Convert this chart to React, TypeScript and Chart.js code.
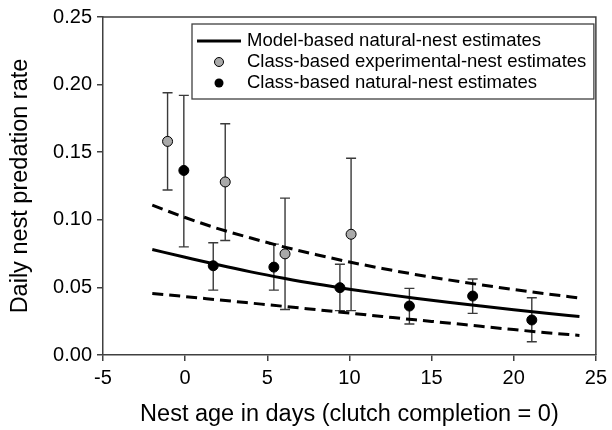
import React, { useEffect, useRef } from "react";
import { Chart, registerables } from "chart.js";

Chart.register(...registerables);

// Model curve
const curveAges = [-2, 0, 2, 4, 6, 8, 10, 12, 14, 16, 18, 20, 22, 24];
const modelRate = [0.078, 0.0723, 0.0667, 0.0615, 0.0568, 0.0525, 0.0487, 0.0452, 0.042, 0.039, 0.0362, 0.0335, 0.0309, 0.0285];
const modelUpper = [0.1108, 0.1017, 0.0935, 0.0865, 0.08, 0.0742, 0.0688, 0.064, 0.0596, 0.0556, 0.0519, 0.0484, 0.0452, 0.0422];
const modelLower = [0.0455, 0.0432, 0.0408, 0.0384, 0.036, 0.0335, 0.031, 0.0285, 0.026, 0.0237, 0.0212, 0.0188, 0.0165, 0.0145];

// Class-based experimental-nest estimates
const expAges = [-1.07, 2.44, 6.08, 10.1];
const expRate = [0.158, 0.128, 0.0748, 0.0893];
const expUpper = [0.194, 0.171, 0.116, 0.1455];
const expLower = [0.122, 0.0847, 0.0336, 0.0328];

// Class-based natural-nest estimates
const natAges = [-0.08, 1.71, 5.4, 9.42, 13.65, 17.5, 21.1];
const natRate = [0.1365, 0.066, 0.065, 0.0498, 0.0362, 0.0436, 0.0259];
const natUpper = [0.192, 0.083, 0.082, 0.0671, 0.0493, 0.0562, 0.0424];
const natLower = [0.080, 0.048, 0.048, 0.0328, 0.0229, 0.0308, 0.0098];

const xTicks = [-5, 0, 5, 10, 15, 20, 25];
const yTicks = [0, 0.05, 0.1, 0.15, 0.2, 0.25];

const legendLabels = [
  "Model-based natural-nest estimates",
  "Class-based experimental-nest estimates",
  "Class-based natural-nest estimates",
];

const FONT = "'Liberation Sans', Arial, Helvetica, sans-serif";
const AXIS = "#404040";
const GREY = "#a9a9a9";

const pts = (xs: number[], ys: number[]) => xs.map((x, i) => ({ x, y: ys[i] }));

const errorBarPlugin = {
  id: "errorBars",
  beforeDatasetsDraw(chart: any) {
    const { ctx, scales } = chart;
    const xs = scales.x;
    const ys = scales.y;
    ctx.save();
    chart.data.datasets.forEach((ds: any) => {
      if (!ds.errUpper) return;
      ctx.strokeStyle = "#3a3a3a";
      ctx.lineWidth = 1.4;
      ds.data.forEach((p: any, i: number) => {
        const px = xs.getPixelForValue(p.x);
        const pu = ys.getPixelForValue(ds.errUpper[i]);
        const pl = ys.getPixelForValue(ds.errLower[i]);
        const hw = 5;
        ctx.beginPath();
        ctx.moveTo(px, pu);
        ctx.lineTo(px, pl);
        ctx.moveTo(px - hw, pu);
        ctx.lineTo(px + hw, pu);
        ctx.moveTo(px - hw, pl);
        ctx.lineTo(px + hw, pl);
        ctx.stroke();
      });
    });
    ctx.restore();
  },
};

const framePlugin = {
  id: "frameLegend",
  afterDraw(chart: any) {
    const { ctx, chartArea } = chart;
    ctx.save();
    ctx.strokeStyle = AXIS;
    ctx.lineWidth = 1.5;
    ctx.beginPath();
    ctx.moveTo(chartArea.left, chartArea.top);
    ctx.lineTo(chartArea.right, chartArea.top);
    ctx.lineTo(chartArea.right, chartArea.bottom);
    ctx.stroke();

    // legend
    const bx = chartArea.left + 89;
    const by = chartArea.top + 7;
    const bw = chartArea.right - 2 - bx;
    const bh = 75;
    ctx.fillStyle = "#fff";
    ctx.fillRect(bx, by, bw, bh);
    ctx.strokeStyle = "#404040";
    ctx.lineWidth = 1.3;
    ctx.strokeRect(bx, by, bw, bh);

    const rowY = [by + 17, by + 38, by + 59];
    ctx.strokeStyle = "#000";
    ctx.lineWidth = 3;
    ctx.beginPath();
    ctx.moveTo(bx + 5, rowY[0]);
    ctx.lineTo(bx + 49, rowY[0]);
    ctx.stroke();

    const cx = bx + 27;
    ctx.lineWidth = 1;
    ctx.beginPath();
    ctx.arc(cx, rowY[1], 4.5, 0, Math.PI * 2);
    ctx.fillStyle = GREY;
    ctx.fill();
    ctx.strokeStyle = "#000";
    ctx.stroke();
    ctx.beginPath();
    ctx.arc(cx, rowY[2], 4.5, 0, Math.PI * 2);
    ctx.fillStyle = "#000";
    ctx.fill();

    ctx.fillStyle = "#000";
    ctx.font = `18.5px ${FONT}`;
    ctx.textBaseline = "middle";
    ctx.textAlign = "left";
    legendLabels.forEach((t, i) => ctx.fillText(t, bx + 55, rowY[i]));
    ctx.restore();
  },
};

export default function App() {
  const ref = useRef<HTMLCanvasElement | null>(null);

  useEffect(() => {
    if (!ref.current) return;
    const lineBase = {
      borderColor: "#000",
      borderWidth: 3,
      pointRadius: 0,
      fill: false,
      cubicInterpolationMode: "monotone",
    };
    const chart = new Chart(ref.current, {
      type: "line",
      data: {
        datasets: [
          { ...lineBase, label: "upper", data: pts(curveAges, modelUpper), borderDash: [11, 6] },
          { ...lineBase, label: "lower", data: pts(curveAges, modelLower), borderDash: [11, 6] },
          { ...lineBase, label: legendLabels[0], data: pts(curveAges, modelRate) },
          {
            label: legendLabels[1],
            data: pts(expAges, expRate),
            showLine: false,
            pointRadius: 5,
            pointBackgroundColor: GREY,
            pointBorderColor: "#000",
            pointBorderWidth: 1,
            errUpper: expUpper,
            errLower: expLower,
          } as any,
          {
            label: legendLabels[2],
            data: pts(natAges, natRate),
            showLine: false,
            pointRadius: 5,
            pointBackgroundColor: "#000",
            pointBorderColor: "#000",
            pointBorderWidth: 1,
            errUpper: natUpper,
            errLower: natLower,
          } as any,
        ],
      },
      options: {
        animation: false,
        responsive: false,
        layout: { padding: { left: 0, right: 13, top: 17, bottom: 0 } },
        plugins: { legend: { display: false }, tooltip: { enabled: false } },
        scales: {
          x: {
            type: "linear",
            min: -5,
            max: 25,
            afterBuildTicks: (s: any) => {
              s.ticks = xTicks.map((v) => ({ value: v }));
            },
            afterFit: (s: any) => {
              s.height = 75;
            },
            ticks: { font: { size: 20, family: FONT }, color: "#000", padding: 5 },
            grid: { drawOnChartArea: false, tickLength: 6, color: AXIS, lineWidth: 1.5 },
            border: { color: AXIS, width: 1.5 },
            title: {
              display: true,
              text: "Nest age in days (clutch completion = 0)",
              font: { size: 23.5, family: FONT },
              color: "#000",
              padding: { top: 2, bottom: 1 },
            },
          },
          y: {
            type: "linear",
            min: 0,
            max: 0.25,
            afterBuildTicks: (s: any) => {
              s.ticks = yTicks.map((v) => ({ value: v }));
            },
            afterFit: (s: any) => {
              s.width = 103;
            },
            ticks: {
              font: { size: 20, family: FONT },
              color: "#000",
              padding: 5,
              callback: (v: any) => Number(v).toFixed(2),
            },
            grid: { drawOnChartArea: false, tickLength: 6, color: AXIS, lineWidth: 1.5 },
            border: { color: AXIS, width: 1.5 },
            title: {
              display: true,
              text: "Daily nest predation rate",
              font: { size: 23.5, family: FONT },
              color: "#000",
              padding: { top: 6, bottom: 2 },
            },
          },
        },
      },
      plugins: [errorBarPlugin, framePlugin],
    } as any);
    return () => chart.destroy();
  }, []);

  return (
    <div style={{ position: "absolute", left: 0, top: 0, width: 612, height: 430, background: "#fff" }}>
      <canvas ref={ref} width={612} height={430} style={{ display: "block" }} />
    </div>
  );
}
